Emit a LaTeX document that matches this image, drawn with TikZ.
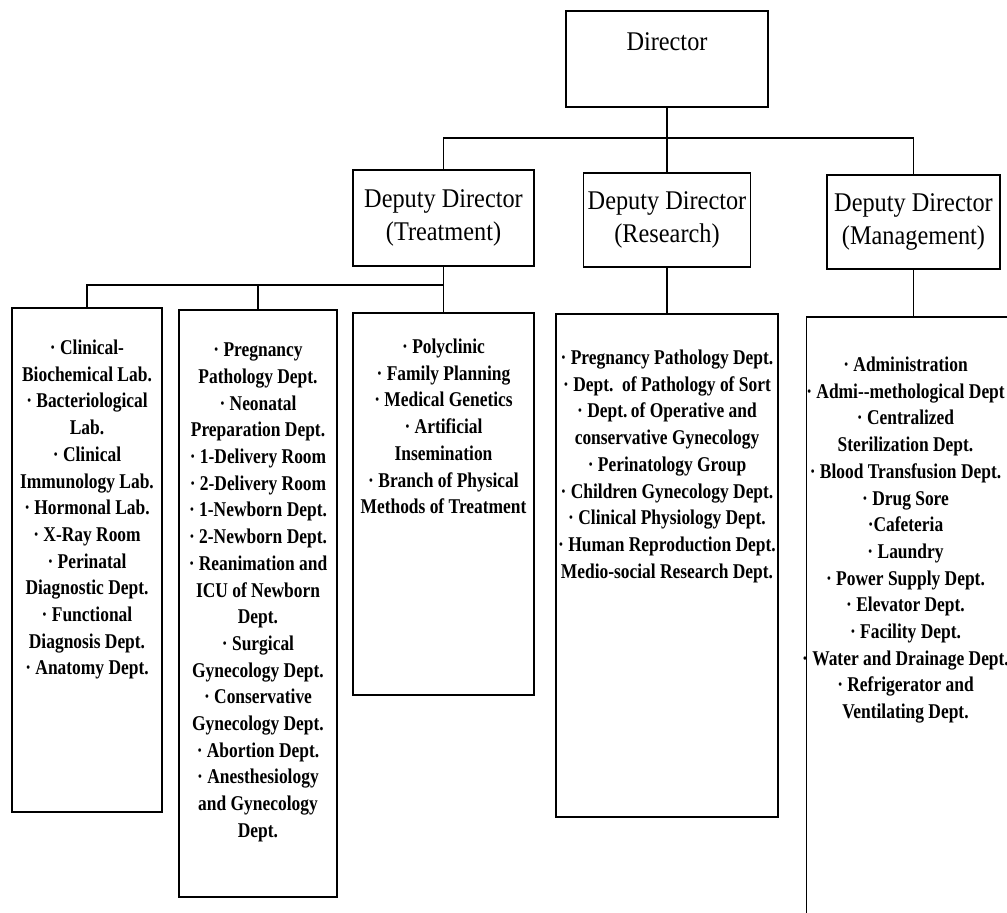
\documentclass[tikz,border=0pt]{standalone}
\usepackage{fontspec}
\setmainfont{Liberation Serif}
\newfontfamily\listfont{Liberation Serif}[FakeStretch=0.83]
\newfontfamily\headfont{Liberation Serif}[FakeStretch=0.9]
\usetikzlibrary{positioning, calc}

\begin{document}
\begin{tikzpicture}[x=1pt, y=-1pt, line width=1.9pt,
    unit/.style={draw, inner sep=0pt, outer sep=0pt},
    head/.style={unit, align=center, font=\headfont\fontsize{27pt}{33pt}\selectfont},
    items/.style={align=center, inner sep=0pt, anchor=north, font=\listfont\bfseries\fontsize{21pt}{26.7pt}\selectfont}]
    \useasboundingbox (0,0) rectangle (1007,913);
    \clip (0,0) rectangle (1007,913);
    \fill[white] (0,0) rectangle (1007,913);

    \node[unit, minimum width=202pt, minimum height=96pt] at (667,59) (dir) {};
    \node[font=\headfont\fontsize{27pt}{33pt}\selectfont] at ([yshift=-31pt]dir.north) (dirname) {Director};

    \node[head, minimum width=181pt, minimum height=96pt] at (443.5,218) (dtreat) {Deputy Director\\(Treatment)};
    \node[head, minimum width=167pt, minimum height=94pt] at (667,220) (dres) {Deputy Director\\(Research)};
    \node[head, minimum width=173pt, minimum height=94pt] at (913.5,222) (dman) {Deputy Director\\(Management)};

    \node[unit, minimum width=150pt, minimum height=504pt] at (87,560) (labs) {};
    \node[unit, minimum width=158pt, minimum height=587pt] at (258,603.5) (wards) {};
    \node[unit, minimum width=181pt, minimum height=382pt] at (443.5,504) (clinic) {};
    \node[unit, minimum width=222pt, minimum height=503pt] at (667,565.5) (resdepts) {};
    \node[unit, minimum width=214pt, minimum height=683pt] at (913.5,658.5) (mandepts) {};

    \node[items] at ([yshift=-31pt]labs.north) (labslist) {· Clinical-\\Biochemical Lab.\\· Bacteriological\\Lab.\\· Clinical\\Immunology Lab.\\· Hormonal Lab.\\· X-Ray Room\\· Perinatal\\Diagnostic Dept.\\· Functional\\Diagnosis Dept.\\· Anatomy Dept.};
    \node[items] at ([yshift=-32pt]wards.north) (wardslist) {· Pregnancy\\Pathology Dept.\\· Neonatal\\Preparation Dept.\\· 1-Delivery Room\\· 2-Delivery Room\\· 1-Newborn Dept.\\· 2-Newborn Dept.\\· Reanimation and\\ICU of Newborn\\Dept.\\· Surgical\\Gynecology Dept.\\· Conservative\\Gynecology Dept.\\· Abortion Dept.\\· Anesthesiology\\and Gynecology\\Dept.};
    \node[items] at ([yshift=-25pt]clinic.north) (cliniclist) {· Polyclinic\\· Family Planning\\· Medical Genetics\\· Artificial\\Insemination\\· Branch of Physical\\Methods of Treatment};
    \node[items] at ([yshift=-35pt]resdepts.north) (reslist) {· Pregnancy Pathology Dept.\\· Dept.\ \ of Pathology of Sort\\· Dept.\,of Operative and\\conservative Gynecology\\· Perinatology Group\\· Children Gynecology Dept.\\· Clinical Physiology Dept.\\· Human Reproduction Dept.\\Medio-social Research Dept.};
    \node[items] at ([xshift=-8pt,yshift=-39pt]mandepts.north) (manlist) {· Administration\\· Admi--methological Dept\\· Centralized\\Sterilization Dept.\\· Blood Transfusion Dept.\\· Drug Sore\\·Cafeteria\\· Laundry\\· Power Supply Dept.\\· Elevator Dept.\\· Facility Dept.\\· Water and Drainage Dept.\\· Refrigerator and\\Ventilating Dept.};

    \coordinate (topbus) at (667,138);
    \coordinate (treatbus) at (443.5,285);
    \draw (dir.south) -- (topbus);
    \draw (dtreat.north) |- (dman.north |- topbus) -- (dman.north);
    \draw (dres.north) -- (dres.north |- topbus);
    \draw (dtreat.south) -- (clinic.north);
    \draw (labs.north) |- (treatbus);
    \draw (wards.north) -- (wards.north |- treatbus);
    \draw (dres.south) -- (resdepts.north);
    \draw (dman.south) -- (mandepts.north);
\end{tikzpicture}
\end{document}
